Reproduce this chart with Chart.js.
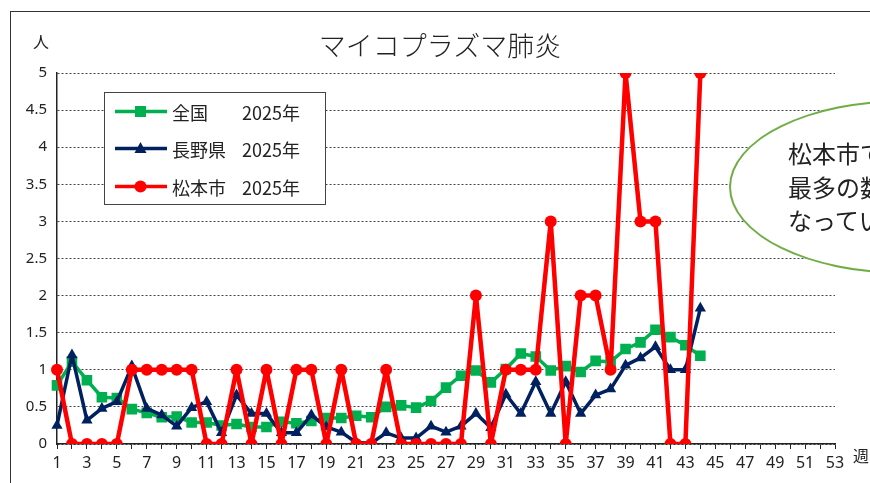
<!DOCTYPE html>
<html><head><meta charset="utf-8">
<script src="https://cdn.jsdelivr.net/npm/chart.js@4"></script>
<style>
body{margin:0;background:#fff;}
#wrap{position:relative;width:870px;height:483px;overflow:hidden;font-family:"Noto Sans CJK JP","Noto Sans",sans-serif;color:#222;}
#c{position:absolute;left:0;top:0;}
#frame{position:absolute;left:10px;top:11px;width:900px;height:520px;border:1.5px solid #333;box-sizing:border-box;pointer-events:none;}
#title{position:absolute;left:0;width:880px;top:28px;text-align:center;font-size:27px;line-height:34px;font-weight:300;}
#unit{position:absolute;left:33px;top:31px;font-size:16px;line-height:20px;}
#xunit{position:absolute;left:853px;top:445px;font-size:16px;line-height:20px;}
#legend{position:absolute;left:104px;top:92px;width:222px;height:113px;border:1.5px solid #444;box-sizing:border-box;background:#fff;}
.lrow{position:absolute;left:0;width:220px;height:26px;font-size:18px;line-height:26px;}
.lrow svg{position:absolute;left:9px;top:5px;}
.lname{position:absolute;left:67px;top:0;}
.lyear{position:absolute;left:137px;top:0;}
#callout{position:absolute;left:729px;top:100px;width:352px;height:174px;border:2.5px solid #70ad47;border-radius:50%;box-sizing:border-box;background:#fff;}
.cl{position:absolute;left:788px;font-size:24px;line-height:30px;white-space:nowrap;}
</style></head>
<body>
<div id="wrap">
<canvas id="c" width="870" height="483"></canvas>
<div id="frame"></div>
<div id="title">マイコプラズマ肺炎</div>
<div id="unit">人</div>
<div id="xunit">週</div>
<div id="legend"></div>
<div id="callout"></div>
<div class="cl" style="top:138px">松本市では過去</div>
<div class="cl" style="top:172px">最多の数と</div>
<div class="cl" style="top:205px">なっています</div>
</div>
<script>
const weeks = ['1','2','3','4','5','6','7','8','9','10','11','12','13','14','15','16','17','18','19','20','21','22','23','24','25','26','27','28','29','30','31','32','33','34','35','36','37','38','39','40','41','42','43','44','45','46','47','48','49','50','51','52','53'];
const national = [0.79,1.11,0.86,0.63,0.62,0.47,0.42,0.36,0.37,0.29,0.29,0.25,0.27,0.23,0.23,0.30,0.28,0.31,0.35,0.35,0.38,0.36,0.50,0.52,0.49,0.58,0.76,0.92,0.99,0.83,1.01,1.22,1.18,0.99,1.05,0.97,1.12,1.11,1.28,1.37,1.54,1.44,1.33,1.19];
const nagano = [0.25,1.20,0.32,0.48,0.57,1.05,0.48,0.39,0.24,0.49,0.57,0.15,0.66,0.41,0.41,0.15,0.15,0.39,0.23,0.16,0.02,0.01,0.15,0.08,0.08,0.24,0.16,0.24,0.41,0.22,0.67,0.41,0.84,0.41,0.84,0.41,0.66,0.74,1.06,1.16,1.31,1.00,1.00,1.83];
const matsumoto = [1,0,0,0,0,1,1,1,1,1,0,0,1,0,1,0,1,1,0,1,0,0,1,0,0,0,0,0,2,0,1,1,1,3,0,2,2,1,5,3,3,0,0,5];
const seriesNames = ['全国','長野県','松本市'];
const yearLabel = '2025年';
const colors = ['#00b050','#002060','#ff0000'];
const shapes = ['rect','triangle','circle'];

// legend (HTML)
const lg = document.getElementById('legend');
const rowTops = [6,43,81];
seriesNames.forEach((n,i)=>{
  const r = document.createElement('div');
  r.className='lrow'; r.style.top = rowTops[i]+'px';
  let mk='';
  if(shapes[i]==='rect') mk='<rect x="21" y="2" width="11" height="11" fill="'+colors[i]+'"/>';
  if(shapes[i]==='triangle') mk='<polygon points="26.5,1 32.5,12 20.5,12" fill="'+colors[i]+'"/>';
  if(shapes[i]==='circle') mk='<circle cx="26.5" cy="7.5" r="6" fill="'+colors[i]+'"/>';
  r.innerHTML = '<svg width="54" height="16"><line x1="1" y1="7.5" x2="53" y2="7.5" stroke="'+colors[i]+'" stroke-width="3.5"/>'+mk+'</svg><span class="lname">'+n+'</span><span class="lyear">'+yearLabel+'</span>';
  lg.appendChild(r);
});

const fam = '"Noto Sans","Noto Sans CJK JP",sans-serif';
new Chart(document.getElementById('c'), {
  type:'line',
  data:{labels:weeks, datasets:[
    {label:seriesNames[0]+' '+yearLabel, data:national, borderColor:colors[0], backgroundColor:colors[0], borderWidth:3.5, pointStyle:'rect', pointRadius:7.5, pointBorderWidth:0, order:3},
    {label:seriesNames[1]+' '+yearLabel, data:nagano, borderColor:colors[1], backgroundColor:colors[1], borderWidth:3.5, pointStyle:'triangle', pointRadius:6.5, pointBorderWidth:0, order:2},
    {label:seriesNames[2]+' '+yearLabel, data:matsumoto, borderColor:colors[2], backgroundColor:colors[2], borderWidth:4.5, pointStyle:'circle', pointRadius:6, pointBorderWidth:0, order:1}
  ]},
  options:{
    responsive:false, animation:false, devicePixelRatio:1,
    layout:{padding:{left:0,right:35,top:73,bottom:0}},
    plugins:{legend:{display:false}, tooltip:{enabled:false}, title:{display:false}},
    elements:{line:{tension:0, borderJoinStyle:'round', borderCapStyle:'round'}},
    scales:{
      x:{offset:false,
        grid:{drawOnChartArea:false, drawTicks:true, tickLength:5, color:'#222', lineWidth:1},
        border:{color:'#222', width:1.5},
        ticks:{autoSkip:false, maxRotation:0, padding:5, color:'#222', font:{size:16, family:fam},
          callback:function(v,i){return i%2===0 ? this.getLabelForValue(v) : '';}},
        afterFit:function(s){s.height=39;}
      },
      y:{min:0, max:5,
        grid:{color:'#444', lineWidth:1, drawTicks:false},
        border:{color:'#222', width:1.5, dash:[2,2]},
        ticks:{stepSize:0.5, padding:10, color:'#222', font:{size:15, family:fam}, callback:v=>String(v)},
        afterFit:function(s){s.width=57;}
      }
    }
  }
});
</script>
</body></html>
